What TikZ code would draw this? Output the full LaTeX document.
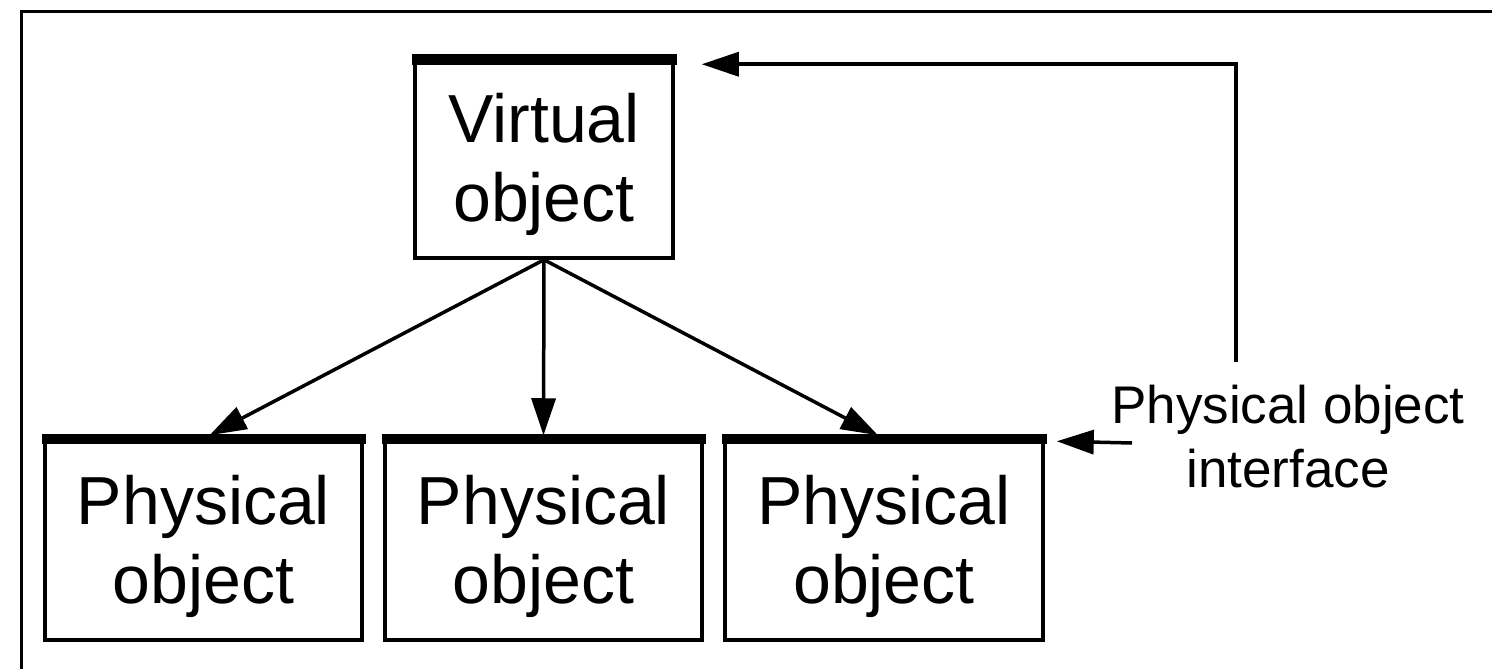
\documentclass[tikz,border=0pt]{standalone}
\usepackage{fontspec}
\setmainfont{Liberation Sans}
\usetikzlibrary{arrows.meta}
\newcommand{\toplift}[1]{\rule{0pt}{#1}}
\tikzset{
  objbox/.style={draw, line width=3.5pt, rectangle, inner sep=0pt, align=center,
    font=\fontsize{68pt}{79pt}\selectfont},
  link/.style={line width=3.5pt, -{Triangle[length=37pt,width=24pt]}},
  bar/.style={fill=black, draw=none},
  frame/.style={line width=3pt},
  note/.style={align=center, inner sep=0pt, font=\fontsize{53pt}{64pt}\selectfont}
}
\begin{document}
\begin{tikzpicture}[x=1pt,y=-1pt]
\useasboundingbox (0,0) rectangle (1492,669);
% open frame: left and top edges only
\draw[frame] (21,669) -- (21,12) -- (1492,12);

% objects
\node[objbox, minimum width=258pt, minimum height=200pt] (v) at (544,158) {\toplift{62pt}Virtual\\object};
\node[objbox, minimum width=317pt, minimum height=203pt] (p1) at (203.5,538.5) {\toplift{66pt}Physical\\object};
\node[objbox, minimum width=317pt, minimum height=203pt] (p2) at (543.5,538.5) {\toplift{66pt}Physical\\object};
\node[objbox, minimum width=318pt, minimum height=203pt] (p3) at (884,538.5) {\toplift{66pt}Physical\\object};

% interface bars along the top edges
\foreach \b in {v,p1,p2,p3}{
  \fill[bar] ([xshift=-1.75pt,yshift=1.75pt]\b.north west) rectangle ([xshift=1.75pt,yshift=-9pt]\b.north east);
}

% virtual object to its physical objects
\draw[link] (v.south) -- ([xshift=6pt]p1.north);
\draw[link] (v.south) -- (p2.north);
\draw[link] (v.south) -- ([xshift=-6pt]p3.north);

% interface label (base anchor sits on the last line)
\node[note, anchor=base] (lbl) at (1288,487) {Physical object\\interface};
\coordinate (ifc) at (1132,443);
\draw[link] (ifc) -- ([xshift=12pt,yshift=-6pt]p3.north east);

% feedback to the virtual object
\coordinate (fb) at (1236,362);
\draw[link] (fb) |- ([xshift=27pt,yshift=-8pt]v.north east);
\end{tikzpicture}
\end{document}
